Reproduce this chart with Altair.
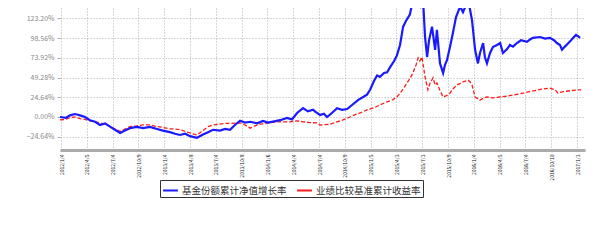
import json
import altair as alt
import pandas as pd

# ---- data ----
x_labels = [
    "2012/1/4", "2012/4/5", "2012/7/4", "2012/10/9", "2013/1/4", "2013/4/8", "2013/7/4",
    "2013/10/8", "2014/1/6", "2014/4/4", "2014/7/4", "2014/10/9", "2015/1/5", "2015/4/3",
    "2015/7/3", "2015/10/9", "2016/1/4", "2016/4/5", "2016/7/4", "2016/10/10", "2017/1/3",
]

blue_name = "基金份额累计净值增长率"
red_name = "业绩比较基准累计收益率"

blue_t = [
    -0.04, 0.19, 0.35, 0.54, 0.74, 0.93, 1.12, 1.32, 1.51, 1.71, 1.90, 2.09, 2.29, 2.48,
    2.67, 2.95, 3.18, 3.45, 3.72, 3.95, 4.22, 4.42, 4.61, 4.81, 5.00, 5.27, 5.50, 5.70,
    5.89, 6.16, 6.36, 6.55, 6.74, 6.94, 7.13, 7.33, 7.60, 7.83, 8.02, 8.22, 8.49, 8.76,
    8.95, 9.15, 9.38, 9.57, 9.77, 9.92, 10.04, 10.19, 10.31, 10.50, 10.70, 10.89, 11.09,
    11.28, 11.51, 11.71, 11.86, 11.98, 12.13, 12.25, 12.36, 12.52, 12.64, 12.75, 12.91,
    13.02, 13.14, 13.26, 13.37, 13.52, 13.64, 13.76, 13.88, 13.95, 14.03, 14.11, 14.19,
    14.26, 14.38, 14.50, 14.57, 14.69, 14.81, 14.88, 14.96, 15.08, 15.19, 15.31, 15.47,
    15.58, 15.70, 15.78, 15.85, 15.93, 16.05, 16.16, 16.24, 16.36, 16.43, 16.51, 16.63,
    16.74, 16.90, 17.02, 17.13, 17.29, 17.40, 17.52, 17.67, 17.83, 18.06, 18.18, 18.29,
    18.57, 18.76, 18.95, 19.11, 19.22, 19.34, 19.42, 19.53, 19.65, 19.77, 19.88, 19.96,
    20.04, 20.12,
]
blue_v = [
    0, -1, 2, 3.7, 2, 0, -4, -6, -10, -8, -12, -16, -20, -17,
    -14, -12.5, -14, -12.5, -15, -17, -19, -21, -22.5, -21, -24, -26, -22, -19,
    -16, -17, -15, -16, -10, -4.6, -7, -6, -8, -5, -7, -5.8, -4, -1.3,
    -3, 5, 11, 7, 9, 5, 2.5, 4, 0, 5, 11, 9, 10,
    15, 21, 25, 28, 34, 45, 52, 50, 55, 56, 62, 70,
    77, 90, 113, 120, 128, 146, 160, 150, 140, 148, 100, 75,
    95, 113, 84, 109, 67, 55, 65, 71, 88, 105, 125, 138,
    131, 140, 144, 135, 121, 84, 67, 80, 92.5, 75, 67, 80,
    87.5, 90, 92.5, 80, 85, 90, 88, 92.5, 96, 94, 97, 99,
    100, 98, 99, 96, 92.5, 90, 84, 88, 92, 96, 100, 102.6,
    101, 99,
]

red_t = [
    -0.04, 0.15, 0.35, 0.54, 0.74, 0.93, 1.12, 1.32, 1.51, 1.71, 1.90, 2.09, 2.29, 2.48,
    2.67, 2.95, 3.18, 3.45, 3.72, 3.95, 4.22, 4.42, 4.61, 4.81, 5.00, 5.27, 5.50, 5.70,
    5.89, 6.16, 6.36, 6.55, 6.94, 7.13, 7.33, 7.52, 7.71, 7.98, 8.22, 8.49, 8.88, 9.15,
    9.38, 9.65, 9.92, 10.04, 10.43, 10.93, 11.20, 11.40, 11.59, 11.86, 12.17, 12.36,
    12.64, 12.83, 13.02, 13.22, 13.41, 13.52, 13.64, 13.76, 13.84, 13.91, 13.99, 14.11,
    14.22, 14.30, 14.42, 14.50, 14.57, 14.69, 14.81, 14.96, 15.08, 15.19, 15.35, 15.47,
    15.58, 15.78, 15.85, 15.93, 16.05, 16.16, 16.24, 16.40, 16.51, 16.71, 17.02, 17.29,
    17.52, 17.79, 18.06, 18.37, 18.68, 18.95, 19.15, 19.26, 19.38, 19.53, 19.77, 20.04,
    20.16,
]
red_v = [
    -3.7, -3, -1, 0, -2, -3, -5, -6, -7.5, -9, -12, -15, -18, -15,
    -12, -11, -10, -10, -12, -13, -15, -15, -16, -18, -20, -22.5, -17, -12,
    -10, -9, -8, -8, -7.5, -10, -14, -11, -9, -8, -6.5, -6, -6, -5,
    -6, -7, -7.5, -10, -9, -3.7, 0, 3, 5, 8.8, 12, 15,
    19, 21, 25, 33, 42.5, 48, 55, 65, 74, 70, 75, 50,
    34, 42, 49, 40, 42.5, 33, 25, 27, 30, 35, 40, 42,
    44, 46, 44, 40, 25, 23, 21, 24, 25, 24, 25, 26,
    27.5, 29, 31, 33, 35, 36, 34, 30, 31, 32, 33, 34,
    34,
]

y_ticks = [-24.64, 0.0, 24.64, 49.28, 73.92, 98.56, 123.20]

# ---- build tables ----
blue_df = pd.DataFrame({"t": blue_t, "v": blue_v, "series": blue_name})
red_df = pd.DataFrame({"t": red_t, "v": red_v, "series": red_name})

font = "Noto Sans CJK SC"

x_enc = alt.X(
    "t:Q",
    scale=alt.Scale(domain=[-0.04, 20.31], nice=False, zero=False),
    axis=alt.Axis(
        title=None,
        values=list(range(len(x_labels))),
        labelExpr=json.dumps(x_labels, ensure_ascii=False) + "[datum.value]",
        labelAngle=270,
        labelAlign="right",
        labelBaseline="middle",
        labelFontSize=5,
        labelColor="#111",
        labelPadding=4,
        labelFont=font,
        ticks=False,
        domain=True,
        domainColor="#aaaaaa",
        domainWidth=3,
        grid=True,
        gridColor="#999999",
        gridDash=[1, 2],
        gridWidth=0.8,
        labelOverlap=False,
    ),
)
y_enc = alt.Y(
    "v:Q",
    scale=alt.Scale(domain=[-41.3, 136.3], nice=False, zero=False),
    axis=alt.Axis(
        title=None,
        values=y_ticks,
        labelExpr="format(datum.value, '.2f') + '%'",
        labelFontSize=7,
        labelColor="#888888",
        labelFont=font,
        labelPadding=3,
        ticks=True,
        tickSize=3,
        tickColor="#aaaaaa",
        domain=False,
        grid=True,
        gridColor="#999999",
        gridDash=[1, 2],
        gridWidth=0.8,
    ),
)
color_enc = alt.Color(
    "series:N",
    scale=alt.Scale(domain=[blue_name, red_name], range=["#1a1aff", "#ff1a1a"]),
    legend=alt.Legend(
        title=None,
        orient="none",
        legendX=100,
        legendY=172,
        direction="horizontal",
        strokeColor="#333333",
        padding=2,
        labelFont=font,
        labelFontSize=9.5,
        labelColor="#333",
        symbolType="stroke",
        symbolSize=220,
        symbolStrokeWidth=2,
        columnPadding=6,
        labelOffset=3,
    ),
)

red_line = alt.Chart(red_df).mark_line(
    strokeWidth=1.3, strokeDash=[4, 2], clip=True
).encode(x=x_enc, y=y_enc, color=color_enc)

blue_line = alt.Chart(blue_df).mark_line(
    strokeWidth=2.2, clip=True
).encode(x=x_enc, y=y_enc, color=color_enc)

chart = (
    alt.layer(red_line, blue_line)
    .properties(
        width=525,
        height=142,
        autosize=alt.AutoSizeParams(type="none"),
        padding={"left": 52, "top": 0, "right": 14, "bottom": 90},
        background="white",
    )
    .configure_view(stroke=None)
)

chart.save("out.html", embed_options={"renderer": "svg", "actions": False})
